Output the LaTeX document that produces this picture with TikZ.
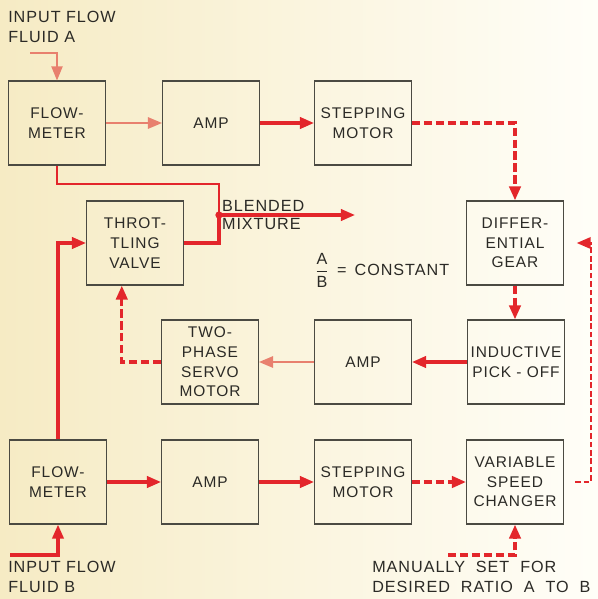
\documentclass[tikz,border=0pt]{standalone}
\usepackage{fontspec}
\setmainfont{Liberation Sans}[LetterSpace=6]
\newfontfamily\widefont{Liberation Sans}[LetterSpace=6, WordSpace=2]
\usepackage{xcolor}
\usetikzlibrary{arrows.meta}
\definecolor{flow-red}{HTML}{E3262B}
\definecolor{faint-red}{HTML}{E8806E}
\definecolor{box-line}{HTML}{4B4A42}
\definecolor{ink}{HTML}{2B2A26}
\definecolor{paper-left}{HTML}{F6EBC4}
\definecolor{paper-right}{HTML}{FFFEF8}

\begin{document}
\begin{tikzpicture}[x=0.025cm, y=-0.025cm,
    every node/.style={font=\fontsize{11.5}{14}\selectfont, text=ink},
    block/.style={draw=box-line, line width=0.8pt, minimum width=2.42cm,
                  minimum height=2.1cm, align=center, inner sep=1pt,
                  font=\fontsize{11}{14}\selectfont},
    flow/.style={draw=flow-red, line width=2.2pt, -{Triangle[length=10pt, width=8pt]}},
    faint/.style={flow, draw=faint-red, line width=1.5pt},
    link/.style={flow, line width=2.4pt, dash pattern=on 6pt off 2.5pt},
    label/.style={align=left, anchor=north west, inner sep=0pt}]
    \shade[left color=paper-left, right color=paper-right] (0,0) rectangle (598,599);
    \useasboundingbox (0,0) rectangle (598,599);

    \node[block] (meterA) at (57,123) {FLOW-\\METER};
    \node[block] (ampA) at (211,123) {AMP};
    \node[block] (stepA) at (363,123) {STEPPING\\MOTOR};
    \node[block] (gear) at (515,243) {DIFFER-\\ENTIAL\\GEAR};
    \node[block] (valve) at (135,243) {THROT-\\TLING\\VALVE};
    \node[block] (servo) at (210,362) {TWO-\\PHASE\\SERVO\\MOTOR};
    \node[block] (ampC) at (363,362) {AMP};
    \node[block] (pickoff) at (516,362) {INDUCTIVE\\PICK - OFF};
    \node[block] (meterB) at (58,482) {FLOW-\\METER};
    \node[block] (ampB) at (210,482) {AMP};
    \node[block] (stepB) at (363,482) {STEPPING\\MOTOR};
    \node[block] (changer) at (515,482) {VARIABLE\\SPEED\\CHANGER};

    \node[label] (inA) at (8,11) {INPUT FLOW\\FLUID A};
    \node[label] (inB) at (8,561) {INPUT FLOW\\FLUID B};
    \node[label, font={\widefont\fontsize{11.5}{14}\selectfont}]
      (manual) at (372,561) {MANUALLY SET FOR\\DESIRED RATIO A TO B};
    \node (ratio) at (382,270) {$\displaystyle\frac{\mbox{A}}{\mbox{B}}$\enspace=\enspace CONSTANT};

    \coordinate (srcA) at (30,53);
    \coordinate (srcB) at (10,555);
    \coordinate (srcM) at (448,555);
    \coordinate (junction) at (219,215);
    \coordinate (mixout) at (355,215);

    \draw[faint, line width=1pt] (srcA) -| (meterA.north);
    \draw[faint] (meterA) -- (ampA);
    \draw[flow] (ampA) -- (stepA);
    \draw[link] (stepA.east) -| (gear.north);
    \draw[flow, -, line width=1.5pt] (meterA.south) -- ++(0,18) -| (junction);
    \draw[flow, -] (valve.east) -| (junction);
    \fill[flow-red] (junction) circle[radius=2.6pt];
    \draw[flow] (junction) -- (mixout);
    \node[anchor=south west, inner sep=2pt] (blend) at (junction) {BLENDED};
    \node[anchor=north west, inner sep=2pt] (mix) at (junction) {MIXTURE};
    \draw[flow] (meterB.north) |- (valve.west);
    \draw[flow] (srcB) -| (meterB.south);
    \draw[flow] (meterB) -- (ampB);
    \draw[flow] (ampB) -- (stepB);
    \draw[link] (stepB) -- (changer);
    \draw[link] (srcM) -| (changer.south);
    \draw[link, line width=1.8pt, dash pattern=on 4pt off 2pt, shorten <=8pt, shorten >=9pt]
      (changer.east) -- ++(27,0) |- (gear.east);
    \draw[link] (gear.south) -- (gear.south |- pickoff.north);
    \draw[flow] (pickoff) -- (ampC);
    \draw[faint] (ampC) -- (servo);
    \draw[link] (servo.west) -| ([xshift=-0.33cm]valve.south);
  \end{tikzpicture}
\end{document}
